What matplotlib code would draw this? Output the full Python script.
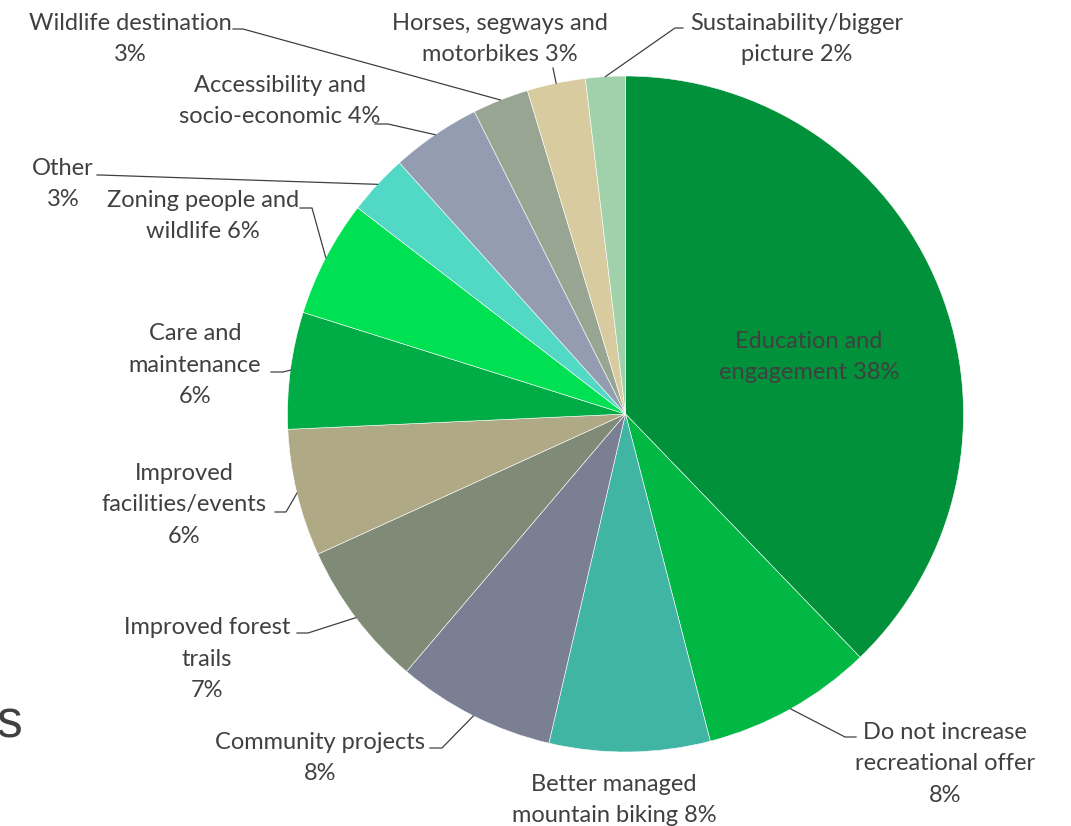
import numpy as np
import matplotlib.pyplot as plt

# data (share of responses, %), clockwise from 12 o'clock
categories = ["Education and engagement", "Do not increase recreational offer",
              "Better managed mountain biking", "Community projects",
              "Improved forest trails", "Improved facilities/events",
              "Care and maintenance", "Zoning people and wildlife", "Other",
              "Accessibility and socio-economic", "Wildlife destination",
              "Horses, segways and motorbikes", "Sustainability/bigger picture"]
values = [37.9, 8.2, 7.7, 7.6, 7.0, 6.1, 5.6, 5.6, 2.9, 4.3, 2.7, 2.8, 1.9]
label_text = ["Education and\nengagement {}", "Do not increase\nrecreational offer\n{}",
              "Better managed\nmountain biking {}", "Community projects\n{}",
              "Improved forest\ntrails\n{}", "Improved\nfacilities/events\n{}",
              "Care and\nmaintenance\n{}", "Zoning people and\nwildlife {}", "Other\n{}",
              "Accessibility and\nsocio-economic {}", "Wildlife destination\n{}",
              "Horses, segways and\nmotorbikes {}", "Sustainability/bigger\npicture {}"]

colors = ["#00913A", "#00B843", "#40B5A4", "#7A7F93", "#7F8A77", "#AFA985",
          "#00AC45", "#00E053", "#52D9C6", "#949CB2", "#99A593", "#D8CBA0", "#A1D1AB"]

# label layout in pixel coords (top-down): text centre, stub start, elbow
label_pos = [(809, 357), (945, 764), (614, 800), (320, 758), (207, 659), (184, 505),
             (195, 365), (203, 216), (63, 184), (280, 101), (130, 39), (500, 39), (797, 39)]
stubs = [None, ((856, 737), (845, 737)), None, ((430, 748), (442, 748)),
         ((297, 633), (308, 633)), ((275, 512), (286, 512)), ((271, 372), (283, 372)),
         ((300, 208), (312, 208)), ((97, 175), (100, 175)), ((375, 124), (388, 124)),
         ((233, 29), (243, 29)), ((553, 68), (553, 68)), ((683, 28), (675, 28))]

W, H = 1071, 826
cx, cy, r = 625.5, 414, 338
text_col = "#404040"

fig = plt.figure(figsize=(W / 100, H / 100), dpi=100)
ax = fig.add_axes([0, 0, 1, 1])

wedges, _ = ax.pie(values, colors=colors, startangle=-90, counterclock=True,
                   center=(cx, cy), radius=r,
                   wedgeprops=dict(edgecolor="white", linewidth=0.4))
ax.set_xlim(0, W)
ax.set_ylim(H, 0)
ax.axis("off")

total = sum(values)
for i, w in enumerate(wedges):
    pct = "{:.0f}%".format(values[i] / total * 100)
    tx, ty = label_pos[i]
    ax.text(tx, ty, label_text[i].format(pct), ha="center", va="center",
            fontsize=17, color=text_col, family="Lato", linespacing=1.6)
    if stubs[i] is not None:
        mid = np.deg2rad((w.theta1 + w.theta2) / 2)
        ax_pt = (cx + r * np.cos(mid), cy + r * np.sin(mid))
        (x0, y0), (x1, y1) = stubs[i]
        ax.plot([x0, x1, ax_pt[0]], [y0, y1, ax_pt[1]], color=text_col, lw=0.9)

# cut-off slide text at the left edge
ax.text(-3, 737, "s", fontsize=37, color=text_col, family="Liberation Sans",
        ha="left", va="baseline")

fig.savefig("out.png", dpi=100)
